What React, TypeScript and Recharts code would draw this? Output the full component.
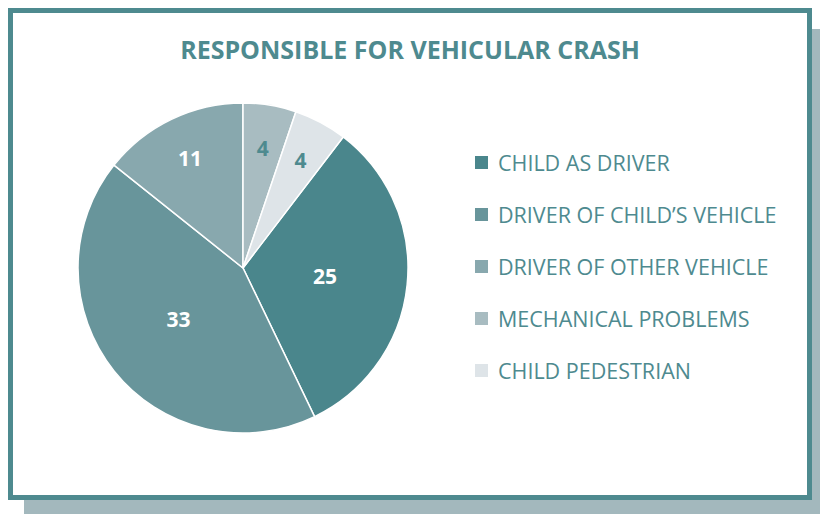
import { PieChart, Pie, Cell, Legend } from "recharts";

const categories = [
  "CHILD AS DRIVER",
  "DRIVER OF CHILD\u2019S VEHICLE",
  "DRIVER OF OTHER VEHICLE",
  "MECHANICAL PROBLEMS",
  "CHILD PEDESTRIAN",
];
const values = [25, 33, 11, 4, 4];
const colors = ["#4a868c", "#68959b", "#88a8ae", "#a8bcc1", "#dee4e8"];
const labelColors = ["#ffffff", "#ffffff", "#ffffff", "#4e8a8f", "#4e8a8f"];

const TEAL = "#4e8a8f";
const FONT = "'Open Sans', sans-serif";

const data = categories.map((name, i) => ({ name, value: values[i] }));

// first slice (child as driver) begins after the two small slices at 12 o'clock
const total = values.reduce((a, b) => a + b, 0);
const startAngle = 90 - ((values[3] + values[4]) / total) * 360;

const RAD = Math.PI / 180;

function renderLabel(props: any) {
  const { cx, cy, midAngle, outerRadius, index, value } = props;
  const r = value >= 20 ? outerRadius * 0.5 : outerRadius * 0.74;
  const x = cx + r * Math.cos(-midAngle * RAD);
  const y = cy + r * Math.sin(-midAngle * RAD);
  return (
    <text
      x={x}
      y={y}
      fill={labelColors[index]}
      textAnchor="middle"
      dominantBaseline="central"
      fontFamily={FONT}
      fontWeight={700}
      fontSize={21}
    >
      {value}
    </text>
  );
}

function LegendContent() {
  return (
    <div>
      {categories.map((name, i) => (
        <div
          key={name}
          style={{ display: "flex", alignItems: "center", height: 52 }}
        >
          <span
            style={{
              width: 13,
              height: 13,
              background: colors[i],
              marginRight: 10,
              flexShrink: 0,
            }}
          />
          <span
            style={{
              color: TEAL,
              fontFamily: FONT,
              fontSize: 21.5,
              whiteSpace: "nowrap",
            }}
          >
            {name}
          </span>
        </div>
      ))}
    </div>
  );
}

export default function App() {
  return (
    <div style={{ position: "relative", width: 820, height: 506 }}>
      {/* offset shadow */}
      <div
        style={{
          position: "absolute",
          left: 16,
          top: 21,
          width: 804,
          height: 485,
          background: "#a3b8bd",
        }}
      />
      <div
        style={{
          position: "absolute",
          left: 0,
          top: 0,
          width: 794,
          height: 482,
          border: `5px solid ${TEAL}`,
          background: "#fff",
        }}
      >
        <div
          style={{
            position: "absolute",
            top: 23,
            left: 0,
            width: "100%",
            textAlign: "center",
            color: TEAL,
            fontFamily: FONT,
            fontWeight: 700,
            fontSize: 25,
            lineHeight: "26px",
          }}
        >
          RESPONSIBLE FOR VEHICULAR CRASH
        </div>
        <div style={{ position: "absolute", top: 0, left: 0 }}>
          <PieChart
            width={794}
            height={482}
            margin={{ top: 0, right: 0, bottom: 0, left: 0 }}
          >
            <Pie
              data={data}
              dataKey="value"
              nameKey="name"
              cx={230}
              cy={255}
              outerRadius={165}
              startAngle={startAngle}
              endAngle={startAngle - 360}
              stroke="#ffffff"
              strokeWidth={1.5}
              label={renderLabel}
              labelLine={false}
              isAnimationActive={false}
            >
              {data.map((d, i) => (
                <Cell key={d.name} fill={colors[i]} />
              ))}
            </Pie>
            <Legend
              content={<LegendContent />}
              wrapperStyle={{ position: "absolute", top: 123, left: 462, width: 330 }}
            />
          </PieChart>
        </div>
      </div>
    </div>
  );
}
